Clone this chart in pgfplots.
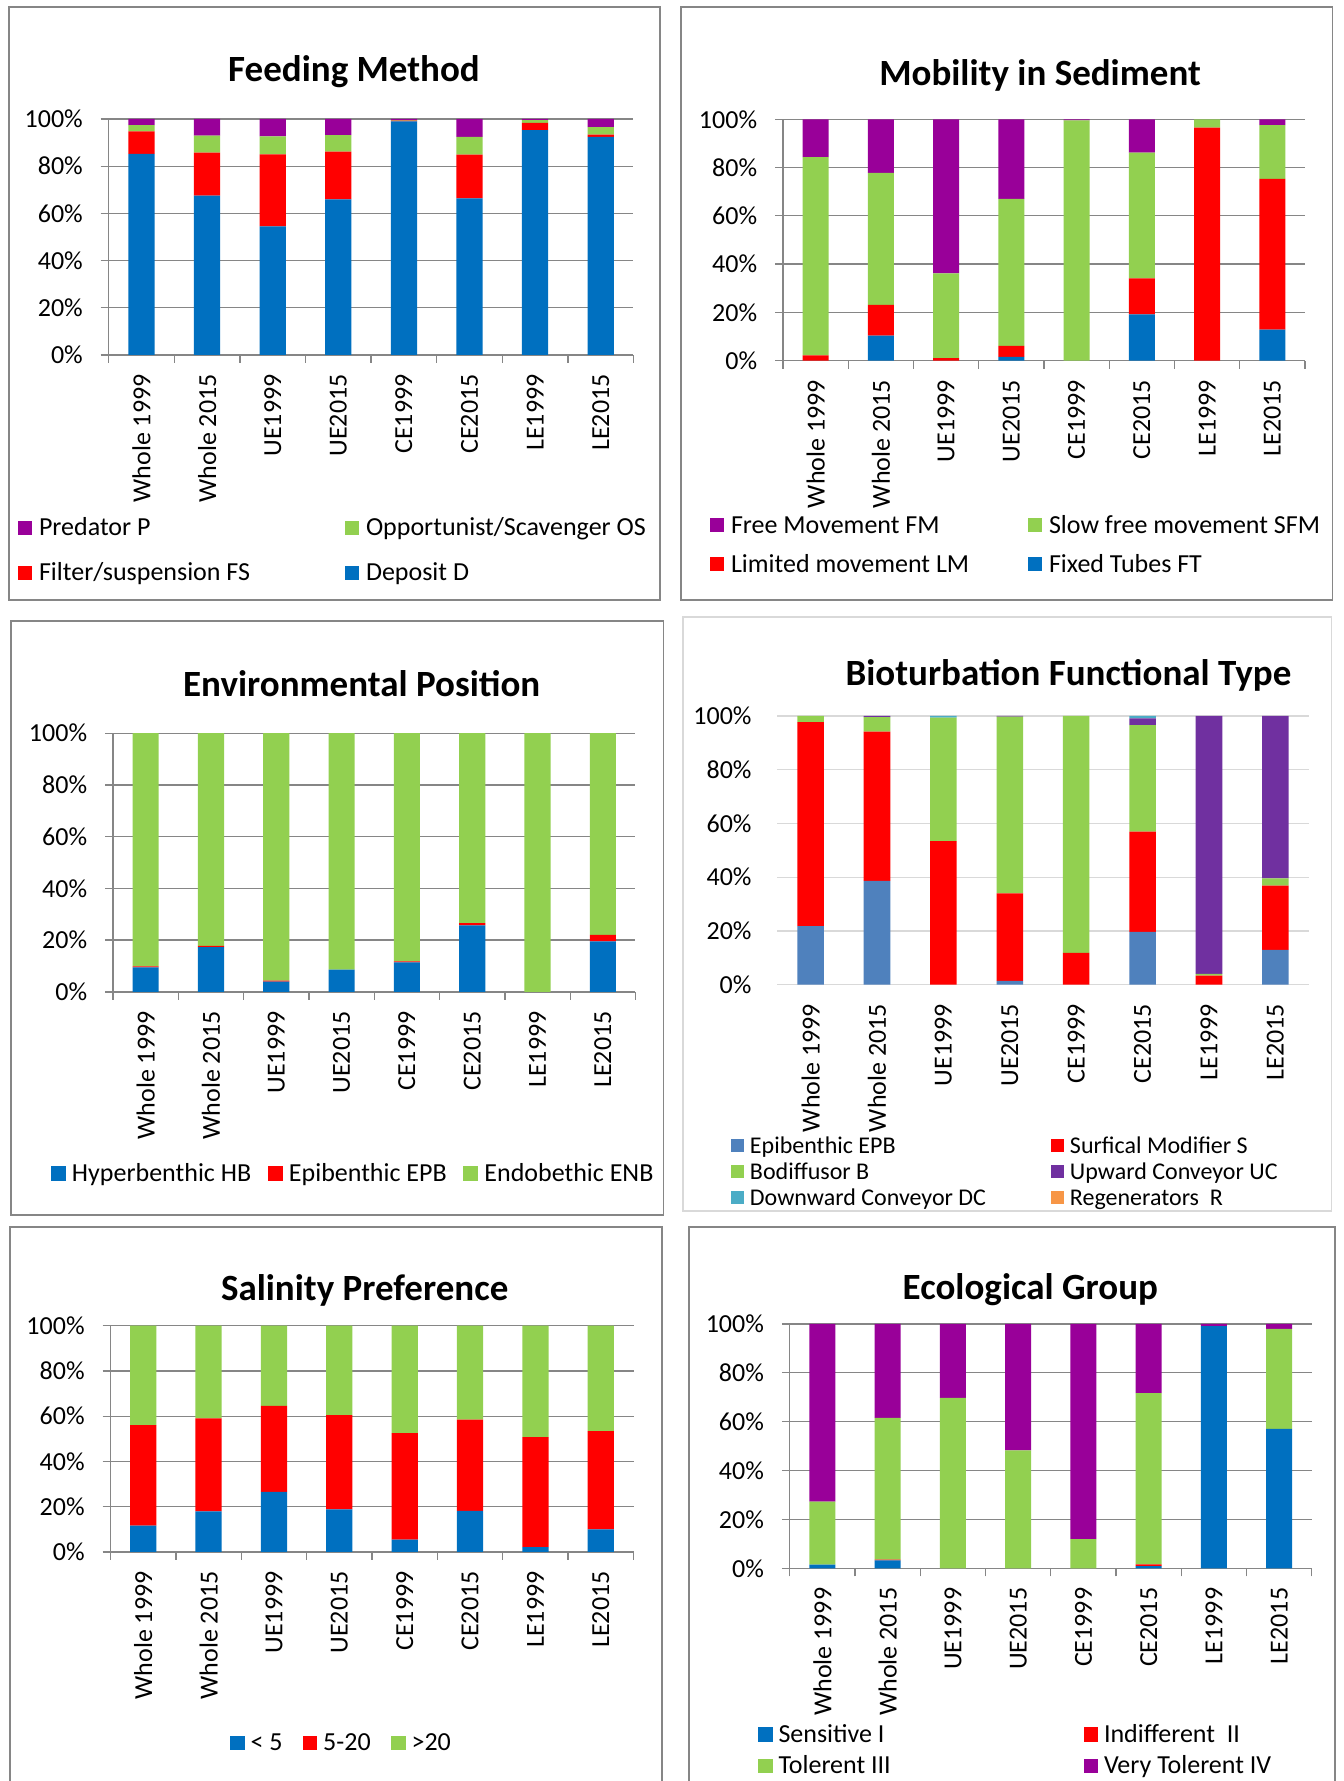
\documentclass[border=0pt]{standalone}
\usepackage{fontspec}
\setmainfont{Carlito}
\usepackage{pgfplots}
\pgfplotsset{compat=1.18}
\definecolor{xlblue}{HTML}{0070C0}
\definecolor{xlred}{HTML}{FF0000}
\definecolor{xlgreen}{HTML}{92D050}
\definecolor{xlpurple}{HTML}{990099}
\definecolor{xlgray}{HTML}{868686}
\definecolor{xllight}{HTML}{D9D9D9}
\definecolor{bioblue}{HTML}{4F81BD}
\definecolor{biopurple}{HTML}{7030A0}
\definecolor{biocyan}{HTML}{4BACC6}
\definecolor{bioorange}{HTML}{F79646}
\newcommand{\legsq}[3]{\addlegendimage{legend image code/.code={\fill[#1] (0pt,{0.7pt-#2pt/2}) rectangle (#2pt,{0.7pt+#2pt/2}); \path (#3pt,0pt);}}}
\newcommand{\wb}[2]{\makebox[#1pt][l]{#2}}
\newcommand{\ttl}[3]{\node[anchor=base, font=\bfseries\fontsize{18.5pt}{22pt}\selectfont] at (#1pt,#2pt) {#3};}
\pgfplotsset{
  /pgf/number format/assume math mode=true,
  xlbase/.style={
    scale only axis, anchor=south west,
    ybar stacked, bar width=0.4,
    ymin=0, ymax=100, ytick={0,20,40,60,80,100},
    yticklabel={\pgfmathprintnumber{\tick}\%},
    xmin=-0.5, xmax=7.5, xtick={0,...,7},
    xticklabels={Whole 1999,Whole 2015,UE1999,UE2015,CE1999,CE2015,LE1999,LE2015},
    tick label style={font=\fontsize{13pt}{15pt}\selectfont, black},
    xticklabel style={rotate=90, anchor=east, inner sep=0pt},
    yticklabel style={anchor=east, inner sep=0pt},
    ymajorgrids,
    legend cell align=left,
    legend style={draw=none, fill=none, inner sep=0pt, outer sep=0pt, anchor=north west,
      column sep=0pt, font=\fontsize{13pt}{15pt}\selectfont,
      nodes={inner sep=0pt, outer sep=0pt, text height=9.5pt, text depth=3pt}},
    every axis plot/.append style={draw=none},
  },
  xlold/.style={xlbase,
    axis x line*=bottom, axis y line*=left,
    axis line style={xlgray, line width=0.65pt},
    major grid style={xlgray, line width=0.65pt},
    tick align=outside, major tick length=4pt, minor tick length=4pt,
    minor xtick={-0.5,0.5,...,7.5},
    major x tick style={draw=none},
    tick style={xlgray, line width=0.65pt},
    xticklabel shift=5.5pt, yticklabel shift=8.75pt,
  },
  xlnew/.style={xlbase,
    axis line style={draw=none}, tick style={draw=none}, major tick length=0pt,
    major grid style={xllight, line width=0.6pt},
    xticklabel shift=9.5pt, yticklabel shift=12.75pt,
  },
}
\begin{document}
\begin{tikzpicture}
\useasboundingbox (0,0) rectangle (671.5pt,890.5pt);
\fill[white] (0,0) rectangle (671.5pt,890.5pt);
% panel frames
\draw[xlgray, line width=0.85pt] (4.5pt,590.5pt) rectangle (330pt,887pt);
\draw[xlgray, line width=0.85pt] (340.5pt,590.5pt) rectangle (666.25pt,887pt);
\draw[xlgray, line width=0.85pt] (5.5pt,283pt) rectangle (331.8pt,580pt);
\draw[xllight, line width=0.7pt] (341.5pt,285pt) rectangle (665.75pt,582pt);
\draw[xlgray, line width=0.85pt] (5pt,-5pt) rectangle (331pt,277pt);
\draw[xlgray, line width=0.85pt] (344.5pt,-5pt) rectangle (667.5pt,277pt);

% ---------------- Feeding Method
\begin{axis}[xlold, at={(54.35pt,713pt)}, width=262.4pt, height=118pt, legend columns=2,
  legend style={at={(-0.1728,-0.6864)}, row sep=9.75pt}]
\legsq{xlpurple}{7}{10.5}\addlegendentry{\wb{153}{Predator P}}
\legsq{xlgreen}{7}{10.5}\addlegendentry{Opportunist/Scavenger OS}
\legsq{xlred}{7}{10.5}\addlegendentry{\wb{153}{Filter/suspension FS}}
\legsq{xlblue}{7}{10.5}\addlegendentry{Deposit D}
\addplot[fill=xlblue] coordinates {(0,85.2) (1,67.5) (2,54.5) (3,65.9) (4,99.0) (5,66.4) (6,95.3) (7,92.4)};
\addplot[fill=xlred] coordinates {(0,9.5) (1,18.2) (2,30.5) (3,20.3) (4,0.3) (5,18.5) (6,3.1) (7,1.0)};
\addplot[fill=xlgreen] coordinates {(0,2.7) (1,7.2) (2,7.6) (3,7.0) (4,0.2) (5,7.5) (6,1.1) (7,3.2)};
\addplot[fill=xlpurple] coordinates {(0,2.6) (1,7.1) (2,7.4) (3,6.8) (4,0.5) (5,7.6) (6,0.5) (7,3.4)};
\end{axis}
\ttl{177}{849.5}{Feeding Method}

% ---------------- Mobility in Sediment
\begin{axis}[xlold, at={(391.5pt,710.15pt)}, width=261pt, height=120.7pt, legend columns=2,
  legend style={at={(-0.1398,-0.6367)}, row sep=7pt}]
\legsq{xlpurple}{7}{10.5}\addlegendentry{\wb{148.5}{Free Movement FM}}
\legsq{xlgreen}{7}{10.5}\addlegendentry{Slow free movement SFM}
\legsq{xlred}{7}{10.5}\addlegendentry{\wb{148.5}{Limited movement LM}}
\legsq{xlblue}{7}{10.5}\addlegendentry{Fixed Tubes FT}
\addplot[fill=xlblue] coordinates {(0,0) (1,10.4) (2,0) (3,1.6) (4,0) (5,19.2) (6,0) (7,12.9)};
\addplot[fill=xlred] coordinates {(0,2.2) (1,12.7) (2,1.1) (3,4.5) (4,0) (5,14.9) (6,96.5) (7,62.4)};
\addplot[fill=xlgreen] coordinates {(0,82.1) (1,54.7) (2,35.1) (3,60.9) (4,99.5) (5,52.1) (6,3.5) (7,22.3)};
\addplot[fill=xlpurple] coordinates {(0,15.7) (1,22.2) (2,63.8) (3,33.0) (4,0.5) (5,13.8) (6,0) (7,2.4)};
\end{axis}
\ttl{520}{847.75}{Mobility in Sediment}

% ---------------- Environmental Position
\begin{axis}[xlold, at={(56.5pt,394.55pt)}, width=261.25pt, height=129.35pt, legend columns=3,
  legend style={at={(-0.1187,-0.6587)}}]
\legsq{xlblue}{7.3}{10.5}\addlegendentry{\wb{98}{Hyperbenthic HB}}
\legsq{xlred}{7.3}{10.5}\addlegendentry{\wb{87.25}{Epibenthic EPB}}
\legsq{xlgreen}{7.3}{10.5}\addlegendentry{Endobethic ENB}
\addplot[fill=xlblue] coordinates {(0,9.5) (1,17.3) (2,4.0) (3,8.6) (4,11.4) (5,25.7) (6,0) (7,19.5)};
\addplot[fill=xlred] coordinates {(0,0.4) (1,0.5) (2,0.4) (3,0) (4,0.4) (5,0.9) (6,0) (7,2.5)};
\addplot[fill=xlgreen] coordinates {(0,90.1) (1,82.2) (2,95.6) (3,91.4) (4,88.2) (5,73.4) (6,100) (7,78.0)};
\end{axis}
\ttl{180.85}{542.25}{Environmental Position}

% ---------------- Bioturbation Functional Type
\begin{axis}[xlnew, at={(388.7pt,398.15pt)}, width=265.6pt, height=134.35pt, legend columns=2,
  legend style={at={(-0.0874,-0.5616)}, row sep=1.4pt, font=\fontsize{12pt}{14pt}\selectfont,
    nodes={text height=8.8pt, text depth=2.8pt}}]
\legsq{bioblue}{6.5}{9.5}\addlegendentry{\wb{150.5}{Epibenthic EPB}}
\legsq{xlred}{6.5}{9.5}\addlegendentry{Surfical Modifier S}
\legsq{xlgreen}{6.5}{9.5}\addlegendentry{\wb{150.5}{Bodiffusor B}}
\legsq{biopurple}{6.5}{9.5}\addlegendentry{Upward Conveyor UC}
\legsq{biocyan}{6.5}{9.5}\addlegendentry{\wb{150.5}{Downward Conveyor DC}}
\legsq{bioorange}{6.5}{9.5}\addlegendentry{Regenerators~~R}
\addplot[fill=bioblue] coordinates {(0,21.8) (1,38.6) (2,0) (3,1.4) (4,0) (5,19.7) (6,0) (7,13.0)};
\addplot[fill=xlred] coordinates {(0,75.9) (1,55.6) (2,53.4) (3,32.6) (4,11.8) (5,37.3) (6,3.4) (7,23.9)};
\addplot[fill=xlgreen] coordinates {(0,2.3) (1,5.4) (2,46.0) (3,65.8) (4,88.2) (5,39.6) (6,0.6) (7,2.7)};
\addplot[fill=biopurple] coordinates {(0,0) (1,0.4) (2,0) (3,0.2) (4,0) (5,2.5) (6,96.0) (7,60.4)};
\addplot[fill=biocyan] coordinates {(0,0) (1,0) (2,0.6) (3,0) (4,0) (5,0.9) (6,0) (7,0)};
\addplot[fill=bioorange] coordinates {(0,0) (1,0) (2,0) (3,0) (4,0) (5,0) (6,0) (7,0)};
\end{axis}
\ttl{534.2}{547.6}{Bioturbation Functional Type}

% ---------------- Salinity Preference
\begin{axis}[xlold, at={(55.25pt,114.5pt)}, width=261.5pt, height=113.15pt, legend columns=3,
  legend style={at={(0.2285,-0.7941)}}]
\legsq{xlblue}{7.3}{10.3}\addlegendentry{\wb{26}{< 5}}
\legsq{xlred}{7.3}{10.3}\addlegendentry{\wb{33.9}{5-20}}
\legsq{xlgreen}{7.3}{10.3}\addlegendentry{>20}
\addplot[fill=xlblue] coordinates {(0,11.6) (1,18.0) (2,26.6) (3,18.8) (4,5.5) (5,18.2) (6,2.2) (7,10.0)};
\addplot[fill=xlred] coordinates {(0,44.5) (1,41.1) (2,38.0) (3,41.7) (4,47.0) (5,40.3) (6,48.6) (7,43.4)};
\addplot[fill=xlgreen] coordinates {(0,43.9) (1,40.9) (2,35.4) (3,39.5) (4,47.5) (5,41.5) (6,49.2) (7,46.6)};
\end{axis}
\ttl{182.35}{240.4}{Salinity Preference}

% ---------------- Ecological Group
\begin{axis}[xlold, at={(394.9pt,106.35pt)}, width=261pt, height=122.2pt, legend columns=2,
  legend style={at={(-0.0609,-0.6354)}, row sep=3.1pt}]
\legsq{xlblue}{7.25}{10.25}\addlegendentry{\wb{152.5}{Sensitive I}}
\legsq{xlred}{7.25}{10.25}\addlegendentry{Indifferent~~II}
\legsq{xlgreen}{7.25}{10.25}\addlegendentry{\wb{152.5}{Tolerent III}}
\legsq{xlpurple}{7.25}{10.25}\addlegendentry{Very Tolerent IV}
\addplot[fill=xlblue] coordinates {(0,1.5) (1,3.2) (2,0) (3,0) (4,0) (5,0.9) (6,99.1) (7,57.0)};
\addplot[fill=xlred] coordinates {(0,0) (1,0.4) (2,0) (3,0) (4,0) (5,0.7) (6,0) (7,0)};
\addplot[fill=xlgreen] coordinates {(0,25.8) (1,57.9) (2,69.7) (3,48.2) (4,11.9) (5,70.1) (6,0) (7,41.0)};
\addplot[fill=xlpurple] coordinates {(0,72.7) (1,38.5) (2,30.3) (3,51.8) (4,88.1) (5,28.3) (6,0.9) (7,2.0)};
\end{axis}
\ttl{515.15}{240.75}{Ecological Group}
\end{tikzpicture}
\end{document}
